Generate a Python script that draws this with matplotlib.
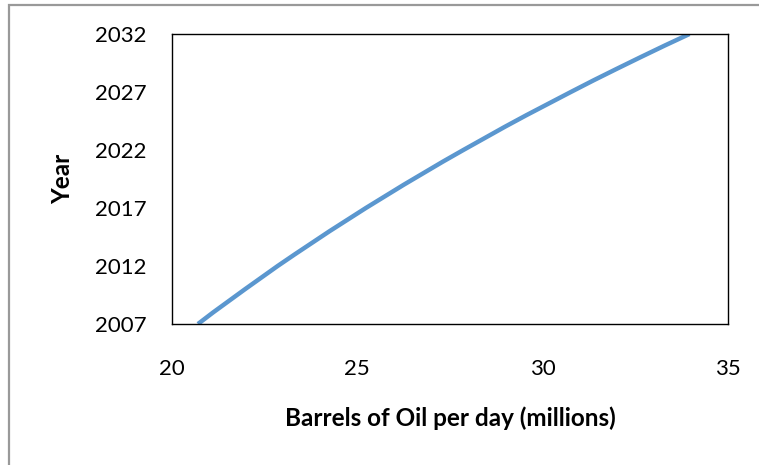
import matplotlib
matplotlib.use("Agg")
import matplotlib.pyplot as plt
from matplotlib.patches import Rectangle

# 数据
years = [2007, 2008, 2009, 2010, 2011, 2012, 2013, 2014, 2015, 2016, 2017, 2018, 2019,
         2020, 2021, 2022, 2023, 2024, 2025, 2026, 2027, 2028, 2029, 2030, 2031, 2032]
barrels = [20.70, 21.11, 21.54, 21.97, 22.41, 22.85, 23.31, 23.78, 24.25, 24.74, 25.23,
           25.74, 26.25, 26.78, 27.31, 27.86, 28.42, 28.98, 29.56, 30.16, 30.76, 31.37,
           32.00, 32.64, 33.29, 33.96]
x_ticks = [20, 25, 30, 35]
y_ticks = [2007, 2012, 2017, 2022, 2027, 2032]

plt.rcParams['font.family'] = ['Lato', 'DejaVu Sans']

W, H = 759, 465
fig = plt.figure(figsize=(W / 100, H / 100), dpi=100)

# 外框（灰色）
fig.patches.append(Rectangle((8.5 / W, -0.1), 1.2, (H - 5) / H + 0.1,
                             transform=fig.transFigure, fill=False,
                             edgecolor='#999999', linewidth=1.6))

ax = fig.add_axes([172 / W, (H - 324) / H, 556 / W, 290 / H])
ax.plot(barrels, years, color='#5B97CF', linewidth=3.2, solid_capstyle='butt')

ax.set_xlim(20, 35)
ax.set_ylim(2007, 2032)
ax.set_xticks(x_ticks)
ax.set_yticks(y_ticks)
ax.tick_params(axis='both', length=0, labelsize=16)
ax.tick_params(axis='x', pad=25)
ax.tick_params(axis='y', pad=18)
for lbl in ax.get_yticklabels():
    lbl.set_va('center_baseline')

for s in ax.spines.values():
    s.set_color('black')
    s.set_linewidth(1.0)

ax.set_xlabel("Barrels of Oil per day (millions)", fontsize=17.5, fontweight='bold', labelpad=20)
ax.set_ylabel("Year", fontsize=17.5, fontweight='bold', labelpad=15)

fig.savefig("out.png", dpi=100)
